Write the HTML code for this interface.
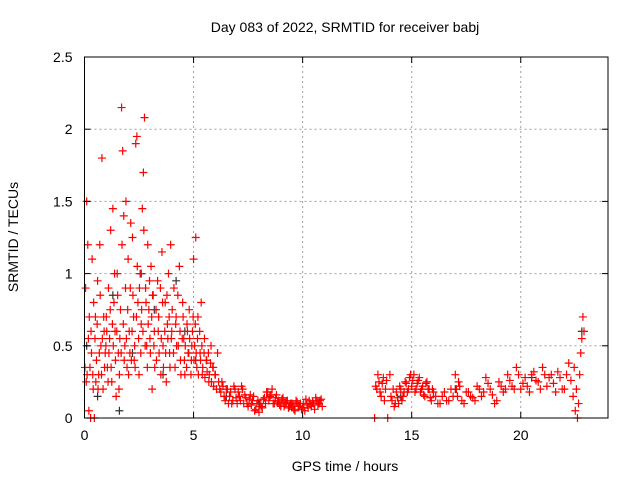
<!DOCTYPE html>
<html><head><meta charset="utf-8"><style>
body{margin:0;background:#fff;}
svg text{font-family:"Liberation Sans",sans-serif;font-size:14px;fill:#000;}
</style></head><body>
<svg id="chart" width="640" height="480" xmlns="http://www.w3.org/2000/svg">
<rect width="640" height="480" fill="#fff"/>
<text x="345" y="32" text-anchor="middle">Day 083 of 2022, SRMTID for receiver babj</text>
<text transform="translate(18,237) rotate(-90)" text-anchor="middle">SRMTID / TECUs</text>
<text x="345" y="471" text-anchor="middle">GPS time / hours</text>
<g id="grid"></g><g id="marks"></g><g id="axes"></g>
</svg>
<script>
const xTicks=[0,5,10,15,20];
const yTicks=[0,0.5,1,1.5,2,2.5];
const yTickLabels=["0","0.5","1","1.5","2","2.5"];
const redT=[0.05,0.1,0.12,0.15,0.2,0.25,0.3,0.35,0.4,0.45,0.5,0.55,0.6,0.65,0.7,0.75,0.8,0.85,0.9,0.95,
1.0,1.05,1.1,1.15,1.2,1.25,1.3,1.35,1.4,1.45,1.5,1.55,1.6,1.65,1.7,1.75,1.8,1.85,1.9,1.95,
2.0,2.05,2.1,2.15,2.2,2.25,2.3,2.35,2.4,2.45,2.5,2.55,2.6,2.65,2.7,2.75,2.8,2.85,2.9,2.95,
3.0,3.05,3.1,3.15,3.2,3.3,3.35,3.4,3.5,3.55,3.6,3.7,3.75,3.8,3.85,3.9,3.95,
4.0,4.1,4.15,4.2,4.3,4.35,4.4,4.5,4.55,4.6,4.7,4.75,4.8,4.9,4.95,5.0,5.05,5.1,5.15,
5.2,5.3,5.35,5.4,5.5,5.6,5.7,5.8,5.9,6.0,6.1,6.2,6.3,
6.4,6.5,6.6,6.7,6.8,6.9,7.0,7.1,7.2,7.3,7.4,7.5,7.6,7.7,7.8,7.9,8.0,8.1,8.2,8.3,8.4,8.5,8.6,8.7,8.8,8.9,9.0,9.1,9.2,9.3,9.4,9.5,9.6,9.7,9.8,9.9,10.0,10.1,10.2,10.3,10.4,10.5,10.6,10.7,10.8,10.9,
13.3,13.4,13.5,13.6,13.7,13.8,13.9,14.0,14.1,14.2,14.3,14.4,14.5,14.6,14.7,14.8,14.9,15.0,15.1,15.2,15.3,15.4,15.5,15.6,15.7,15.8,15.9,16.0,16.2,16.4,16.6,16.8,17.0,17.1,17.2,17.4,17.6,17.8,18.0,18.2,18.4,18.6,18.8,19.0,19.2,19.4,19.6,19.8,20.0,20.2,20.4,20.6,20.8,21.0,21.2,21.4,21.6,21.8,22.0,22.2,22.4,22.5,22.6,22.7,22.8,22.85];
const redV=[0.9,1.5,0.3,1.2,0.05,0.35,0.6,1.1,0.2,0.0,0.7,0.4,0.95,0.3,1.2,0.5,1.8,0.2,0.6,0.45,
0.7,0.35,0.9,0.55,1.3,0.25,1.45,0.8,0.6,0.15,1.0,0.45,0.3,0.75,2.15,1.85,1.4,0.5,1.5,0.35,
1.1,0.6,0.9,0.4,1.25,0.7,0.5,1.9,1.95,0.8,0.3,1.0,0.65,1.45,1.7,2.08,0.9,0.5,1.2,0.75,
0.55,1.05,0.2,0.85,0.6,0.4,0.95,0.7,0.3,1.15,0.5,0.8,0.25,0.65,1.0,0.45,1.2,
0.6,0.9,0.35,0.7,0.5,1.05,0.4,0.8,0.55,0.3,0.65,0.45,0.75,0.4,0.6,1.1,0.5,1.25,0.35,
0.7,0.45,0.8,0.3,0.55,0.4,0.25,0.5,0.35,0.3,0.45,0.2,0.25,
0.15,0.2,0.1,0.18,0.12,0.2,0.1,0.15,0.22,0.1,0.14,0.08,0.16,0.12,0.05,0.1,0.04,0.08,0.13,0.1,0.18,0.15,0.2,0.1,0.16,0.12,0.08,0.14,0.1,0.12,0.08,0.1,0.06,0.12,0.08,0.1,0.07,0.05,0.09,0.12,0.08,0.1,0.14,0.09,0.12,0.08,
0.0,0.2,0.25,0.15,0.28,0.2,0.0,0.3,0.12,0.08,0.18,0.1,0.2,0.15,0.25,0.18,0.28,0.22,0.3,0.2,0.26,0.18,0.22,0.15,0.25,0.2,0.12,0.18,0.1,0.15,0.12,0.2,0.3,0.15,0.22,0.1,0.18,0.14,0.22,0.15,0.28,0.2,0.1,0.25,0.18,0.3,0.22,0.35,0.2,0.28,0.18,0.32,0.25,0.35,0.22,0.3,0.18,0.28,0.2,0.38,0.15,0.05,0.0,0.3,0.55,0.7];
const red2T=[0.02,0.08,0.18,0.22,0.28,0.32,0.38,0.42,0.48,0.52,0.58,0.62,0.68,0.72,0.78,0.82,0.88,0.92,0.98,1.02,1.08,1.12,1.18,1.22,1.28,1.32,1.38,1.42,1.48,1.52,1.58,1.62,1.68,1.72,1.78,1.82,1.88,1.92,1.98,2.02,2.08,2.12,2.18,2.22,2.28,2.32,2.38,2.42,2.48,2.52,2.58,2.62,2.68,2.72,2.78,2.82,2.88,2.92,2.98,3.02,3.08,3.12,3.18,3.22,3.28,3.38,3.42,3.48,3.52,3.58,3.62,3.68,3.72,3.78,3.82,3.88,3.92,3.98,4.02,4.08,4.18,4.22,4.28,4.38,4.42,4.48,4.52,4.58,4.62,4.68,4.72,4.78,4.82,4.88,4.92,4.98,5.02,5.08,5.12,5.18,5.22,5.28,5.32,5.38,5.42,5.48,5.52,5.58,5.62,5.68,5.72,5.78,5.82,5.88,5.92,5.98,6.05,6.15,6.25,6.35,6.45,6.55,6.65,6.75,6.85,6.95,7.05,7.15,7.25,7.35,7.45,7.55,7.65,7.75,7.85,7.95,8.05,8.15,8.25,8.35,8.45,8.55,8.65,8.75,8.85,8.95,9.05,9.15,9.25,9.35,9.45,9.55,9.65,9.75,9.85,9.95,10.05,10.15,10.25,10.35,10.45,10.55,10.65,10.75,10.85,
13.35,13.45,13.55,13.65,13.75,13.85,14.05,14.15,14.25,14.35,14.45,14.55,14.65,14.75,14.85,14.95,15.05,15.15,15.25,15.35,15.45,15.55,15.65,15.75,15.85,15.95,16.1,16.3,16.5,16.7,16.9,17.05,17.15,17.3,17.5,17.7,17.9,18.1,18.3,18.5,18.7,18.9,19.1,19.3,19.5,19.7,19.9,20.1,20.3,20.5,20.7,20.9,21.1,21.3,21.5,21.7,21.9,22.1,22.3,22.45,22.55,22.65,22.75,22.9];
const red2V=[0.35,0.25,0.55,0.7,0.0,0.45,0.3,0.8,0.55,0.25,0.65,0.2,0.45,0.85,0.3,0.55,0.7,0.35,0.5,0.6,0.25,0.45,0.75,0.35,0.65,0.5,1.0,0.4,0.6,0.85,0.2,0.55,0.45,1.2,0.65,0.4,0.9,0.55,0.75,0.3,0.45,1.35,0.6,0.85,0.4,0.35,0.7,1.05,0.55,0.9,0.45,0.75,0.6,1.3,0.5,0.8,0.35,0.65,0.95,0.45,0.7,0.85,0.5,0.35,0.75,0.6,0.45,0.9,0.55,0.8,0.35,0.6,0.45,0.85,0.55,0.7,0.35,0.55,0.75,0.45,0.65,0.5,0.85,0.6,0.3,0.55,0.7,0.4,0.5,0.35,0.6,0.45,0.55,0.3,0.5,0.7,0.4,0.65,0.45,0.55,0.3,0.6,0.4,0.5,0.35,0.45,0.28,0.4,0.32,0.45,0.3,0.38,0.25,0.35,0.22,0.3,0.2,0.25,0.18,0.22,0.12,0.2,0.15,0.1,0.22,0.14,0.18,0.12,0.2,0.16,0.1,0.13,0.09,0.15,0.06,0.12,0.1,0.07,0.14,0.18,0.12,0.16,0.1,0.14,0.11,0.09,0.13,0.08,0.11,0.07,0.1,0.09,0.05,0.11,0.08,0.06,0.1,0.13,0.07,0.1,0.11,0.06,0.12,0.1,0.13,
0.22,0.3,0.18,0.24,0.12,0.26,0.15,0.2,0.1,0.14,0.22,0.12,0.18,0.24,0.2,0.3,0.26,0.18,0.24,0.28,0.2,0.16,0.24,0.2,0.14,0.2,0.15,0.1,0.18,0.12,0.15,0.2,0.25,0.12,0.18,0.15,0.12,0.2,0.18,0.24,0.16,0.12,0.22,0.2,0.26,0.2,0.3,0.24,0.22,0.3,0.26,0.2,0.3,0.28,0.24,0.32,0.2,0.3,0.26,0.35,0.2,0.1,0.45,0.6,0.3];
const blackT=[0.1,0.6,1.3,1.6,2.2,2.6,3.2,3.6,4.2,4.6,5.1,6.5,8.0,9.5,14.5,17.0,20.5,22.8];
const blackV=[0.5,0.15,0.85,0.05,0.45,1.0,0.75,0.3,0.95,0.6,0.4,0.15,0.1,0.08,0.15,0.2,0.28,0.6];
const X0=84.5,X1=608,Y0=418,Y1=57;
const xs=t=>X0+t/24*(X1-X0);
const ys=v=>Y0-v/2.5*(Y0-Y1);
const NS="http://www.w3.org/2000/svg";
const grid=document.getElementById('grid'),axes=document.getElementById('axes'),marks=document.getElementById('marks');
function mk(tag,attrs,parent){const e=document.createElementNS(NS,tag);for(const k in attrs)e.setAttribute(k,attrs[k]);parent.appendChild(e);return e;}
xTicks.forEach(t=>{const x=xs(t);
 if(t>0){const g=mk('line',{x1:x,x2:x,y1:Y0,y2:Y1,stroke:'#a0a0a0','stroke-dasharray':'2,3'},grid);
 
 }
 mk('line',{x1:x,x2:x,y1:Y0,y2:Y0-6,stroke:'#000'},axes);
 mk('line',{x1:x,x2:x,y1:Y1,y2:Y1+6,stroke:'#000'},axes);
 const tx=mk('text',{x:x,y:Y0+22,'text-anchor':'middle'},axes);tx.textContent=t;
 
 });
yTicks.forEach((v,i)=>{const y=ys(v);
 if(v>0&&v<2.5){const g=mk('line',{x1:X0,x2:X1,y1:y,y2:y,stroke:'#a0a0a0','stroke-dasharray':'2,3'},grid);
 
 }
 mk('line',{x1:X0,x2:X0+6,y1:y,y2:y,stroke:'#000'},axes);
 mk('line',{x1:X1,x2:X1-6,y1:y,y2:y,stroke:'#000'},axes);
 const tx=mk('text',{x:X0-12,y:y+5,'text-anchor':'end'},axes);tx.textContent=yTickLabels[i];
 
 });
const fr=mk('rect',{x:X0,y:Y1,width:X1-X0,height:Y0-Y1,fill:'none',stroke:'#000'},axes);


function plus(t,v,c){const x=xs(t),y=ys(v);
 return mk('path',{d:`M${x-4},${y}h8M${x},${y-4}v8`,stroke:c,'stroke-width':1.2},marks);}
blackT.forEach((t,i)=>{const p=plus(t,blackV[i],'#333');
 
 });
redT.forEach((t,i)=>{const p=plus(t,redV[i],'#ff0000');
 
 });
red2T.forEach((t,i)=>{const p=plus(t,red2V[i],'#ff0000');
 
 });
</script>
</body></html>
